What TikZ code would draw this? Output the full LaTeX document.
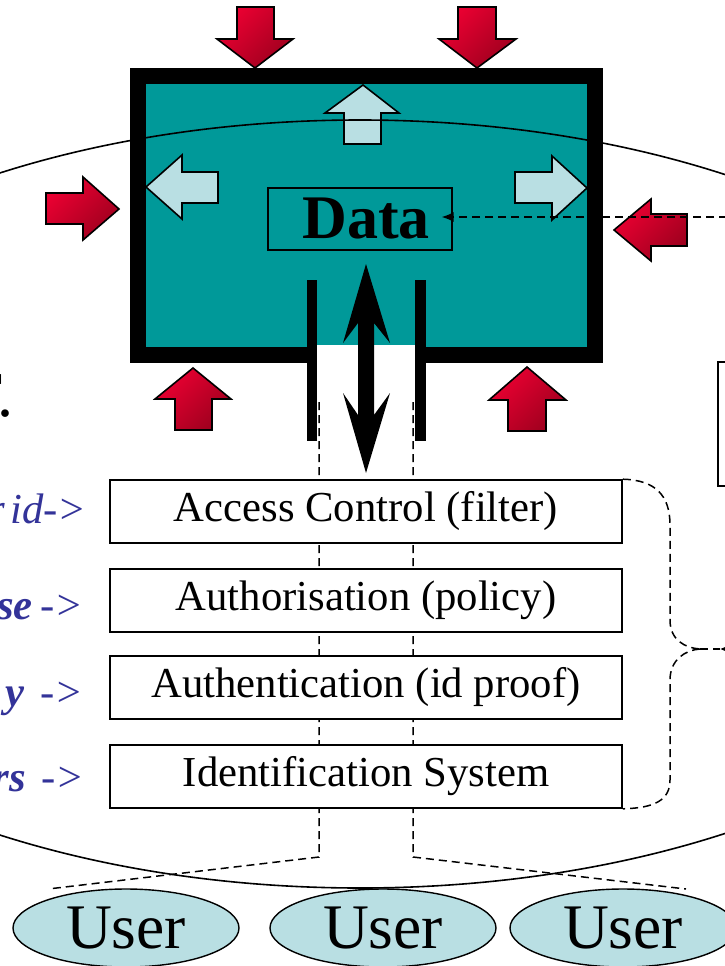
\documentclass[tikz,border=0pt]{standalone}
\usepackage{fontspec}
\setmainfont{Liberation Serif}
\usetikzlibrary{arrows.meta,shapes.geometric}
\definecolor{tealbox}{RGB}{0,153,153}
\definecolor{paleblue}{RGB}{185,223,227}
\definecolor{redlight}{RGB}{236,0,50}
\definecolor{reddark}{RGB}{158,0,30}
\definecolor{labelblue}{RGB}{51,51,153}
\tikzset{
  redarrow/.style={draw=black, line width=1.6pt, line join=miter,
    top color=redlight, bottom color=reddark, shading angle=45},
  palearrow/.style={draw=black, line width=1.6pt, line join=miter, fill=paleblue},
  layerbox/.style={draw=black, line width=1.6pt, fill=white, inner sep=0pt,
    minimum width=512pt, minimum height=63pt, font=\fontsize{42.7}{50}\selectfont},
  userell/.style={ellipse, draw=black, line width=1.4pt, fill=paleblue, inner sep=0pt,
    minimum width=226pt, minimum height=78pt, font=\fontsize{63.5}{70}\selectfont},
  sidelabel/.style={anchor=base east, inner sep=0pt, text=labelblue,
    font=\fontsize{42.7}{50}\selectfont\itshape},
  dashline/.style={line width=1.5pt, dash pattern=on 8pt off 5pt},
}
\begin{document}
\begin{tikzpicture}[x=1pt, y=-1pt]
\useasboundingbox (0,0) rectangle (725,966);
\fill[white] (0,0) rectangle (725,966);

% protected data store: thick black frame with an opening at the bottom
\fill[black] (130,68) rectangle (603,363);
\fill[tealbox] (146,84) rectangle (587,347);
\fill[white] (317,345) rectangle (415,364);
\fill[black] (307,280) rectangle (317,441);
\fill[black] (415,280) rectangle (426,441);

% leaks out of the store
\filldraw[palearrow] (363,85) -- (399,113) -- (381,113) -- (381,144) -- (344,144) -- (344,113) -- (325,113) -- cycle;
\filldraw[palearrow] (146,187) -- (182,155) -- (182,172) -- (218,172) -- (218,203) -- (182,203) -- (182,219) -- cycle;
\filldraw[palearrow] (587,188) -- (552,156) -- (552,172) -- (515,172) -- (515,203) -- (552,203) -- (552,220) -- cycle;

% system boundary
\draw[line width=1.6pt] (360,504) ellipse [x radius=710pt, y radius=384pt];

\node[draw, line width=1.4pt, inner sep=0pt, minimum width=184pt, minimum height=62pt,
  font=\bfseries\fontsize{62}{70}\selectfont] (data) at (360,219) {\hspace*{12pt}Data};

% two-way access channel
\fill[black] (366,264) -- (390,343) -- (374,323) -- (374,415) -- (390,393) -- (366,473)
  -- (343,393) -- (358,415) -- (358,323) -- (343,343) -- cycle;

% user paths through the layers
\coordinate (lt) at (319,402);
\coordinate (lb) at (319,857);
\coordinate (le) at (48,889);
\coordinate (rt) at (413,402);
\coordinate (rb) at (413,857);
\coordinate (re) at (686,889);
\draw[dashline] (lt) -- (lb) -- (le);
\draw[dashline] (rt) -- (rb) -- (re);

% protection layers
\node[layerbox] (ac) at (366,511.5) {Access Control (filter)};
\node[layerbox] (az) at (366,600.5) {Authorisation (policy)};
\node[layerbox] (an) at (366,687.5) {Authentication (id proof)};
\node[layerbox] (id) at (366,776.5) {Identification System};

% brace grouping the layers
\coordinate (btip) at (700,649);
\coordinate (bin) at (720,649);
\coordinate (bsrc) at (760,649);
\draw[dashline] (ac.north east) .. controls (655,480) and (670,495) .. (670,525)
  -- (670,620) .. controls (670,640) and (685,648) .. (btip);
\draw[dashline] (btip) .. controls (685,650) and (670,660) .. (670,680)
  -- (670,780) .. controls (670,800) and (655,808) .. (id.south east);
\draw[dashline] (btip) -- (bin);
\draw[line width=1.5pt, -{Latex[length=9pt,width=9pt]}] (bsrc) -- (bin);

% box at the right edge
\node[draw, line width=1.6pt, inner sep=0pt, minimum width=40pt, minimum height=124pt,
  anchor=north west] (side) at (717,361) {};

% attacks on the store
\shadedraw[redarrow] (237,7) -- (274,7) -- (274,39) -- (293,39) -- (255,68) -- (217,39) -- (237,39) -- cycle;
\shadedraw[redarrow] (458,7) -- (496,7) -- (496,39) -- (516,39) -- (477,68) -- (439,39) -- (458,39) -- cycle;
\shadedraw[redarrow] (46,193) -- (83,193) -- (83,177) -- (119,209) -- (83,240) -- (83,224) -- (46,224) -- cycle;
\shadedraw[redarrow] (687,214) -- (651,214) -- (651,199) -- (614,230) -- (651,261) -- (651,246) -- (687,246) -- cycle;
\shadedraw[redarrow] (193,368) -- (231,399) -- (212,399) -- (212,430) -- (175,430) -- (175,399) -- (155,399) -- cycle;
\shadedraw[redarrow] (527,367) -- (566,400) -- (546,400) -- (546,431) -- (508,431) -- (508,400) -- (489,400) -- cycle;

% reference into the data
\coordinate (dsrc) at (740,217);
\draw[line width=1.5pt, dash pattern=on 8pt off 5pt, -{Latex[length=12pt,width=10pt]},
  shorten >=-11pt] (dsrc) -- (data.east |- dsrc);

% labels on the left
\node[anchor=base east, inner sep=0pt, font=\fontsize{64}{70}\selectfont] (cut) at (14,416) {T.};
\node[sidelabel] (l1) at (87,523) {r\hspace{5pt}id->};
\node[sidelabel] (l2) at (84,619) {\textbf{se}\hspace{8pt}->};
\node[sidelabel] (l3) at (84,706) {\textbf{y}\hspace{16pt}->};
\node[sidelabel] (l4) at (85,791) {\textbf{rs}\hspace{16pt}->};

% users
\node[userell] (u1) at (126,928) {User};
\node[userell] (u2) at (383,928) {User};
\node[userell] (u3) at (623,928) {User};
\end{tikzpicture}
\end{document}
